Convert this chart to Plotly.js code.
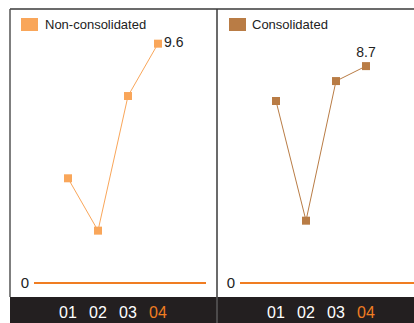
<!DOCTYPE html>
<html>
<head>
<meta charset="utf-8">
<script src="https://cdn.plot.ly/plotly-3.0.1.min.js"></script>
<style>html,body{margin:0;padding:0;background:#fff;}#chart{width:414px;height:323px;}</style>
</head>
<body>
<div id="chart"></div>
<script>
var categories = ['01', '02', '03', '04'];
var tickLabels = ['01', '02', '03', '04'];
var highlightLabel = '04';
var nonConsolidated = [4.2, 2.1, 7.5, 9.6];
var consolidated = [7.3, 2.5, 8.1, 8.7];
var seriesNames = ['Non-consolidated', 'Consolidated'];

var colNon = '#f9a65a';
var colCon = '#b97c45';
var accent = '#f07d22';
var W = 414, H = 323, B = 26;
var plotH = H - B;
function px(x){ return x / W; }
function py(y){ return (plotH - y) / plotH; }

function lastLabel(arr){ return arr.map(function(v,i){ return i === arr.length-1 ? v.toFixed(1) : ''; }); }
var tickText = tickLabels.map(function(t){ return t === highlightLabel ? '<span style="color:' + accent + '">' + t + '</span>' : t; });

var traces = [
  {x: categories, y: nonConsolidated, xaxis: 'x', yaxis: 'y', type: 'scatter', mode: 'lines+markers+text',
   line: {color: colNon, width: 1}, marker: {color: colNon, size: 8, symbol: 'square'},
   text: lastLabel(nonConsolidated), textposition: 'middle right', textfont: {size: 14, color: '#222'},
   cliponaxis: false, hoverinfo: 'none', showlegend: false},
  {x: categories, y: consolidated, xaxis: 'x2', yaxis: 'y2', type: 'scatter', mode: 'lines+markers+text',
   line: {color: colCon, width: 1}, marker: {color: colCon, size: 8, symbol: 'square'},
   text: lastLabel(consolidated), textposition: 'top center', textfont: {size: 14, color: '#222'},
   cliponaxis: false, hoverinfo: 'none', showlegend: false}
];

var yr = [-14/24.93, 283/24.93];
function yax(anchor){
  return {anchor: anchor, domain: [0,1], range: yr, showgrid: false, zeroline: true,
    zerolinecolor: accent, zerolinewidth: 2, tickvals: [0], ticktext: ['0'], ticks: '',
    showline: false, tickfont: {size: 15, color: '#222'}, ticklabelstandoff: 4, fixedrange: true};
}
function xax(anchor, dom, rng){
  return {anchor: anchor, domain: dom, range: rng, type: 'category', tickvals: categories, ticktext: tickText,
    showgrid: false, zeroline: false, showline: false, ticks: '', tickfont: {size: 16, color: '#ffffff'},
    ticklabelstandoff: 4, fixedrange: true};
}

var lineCol = '#3a3a3a';
var shapes = [
  {type: 'rect', xref: 'paper', yref: 'paper', x0: px(10), x1: 1.0, y0: py(297), y1: py(323), fillcolor: '#231f20', line: {width: 0}, layer: 'below'},
  {type: 'line', xref: 'paper', yref: 'paper', x0: px(10), x1: 1.0, y0: py(9), y1: py(9), line: {color: lineCol, width: 1.5}},
  {type: 'line', xref: 'paper', yref: 'paper', x0: px(10), x1: px(10), y0: py(9), y1: py(297), line: {color: '#555', width: 1.5}},
  {type: 'line', xref: 'paper', yref: 'paper', x0: px(217), x1: px(217), y0: py(9), y1: py(297), line: {color: lineCol, width: 1.5}},
  {type: 'line', xref: 'paper', yref: 'paper', x0: px(217), x1: px(217), y0: py(297), y1: py(323), line: {color: '#777', width: 1}},
  {type: 'rect', xref: 'paper', yref: 'paper', x0: px(21), x1: px(38), y0: py(18), y1: py(31), fillcolor: colNon, line: {width: 0}},
  {type: 'rect', xref: 'paper', yref: 'paper', x0: px(229), x1: px(246), y0: py(18), y1: py(31), fillcolor: colCon, line: {width: 0}}
];
var annotations = [
  {xref: 'paper', yref: 'paper', x: px(43), y: py(24.5), xanchor: 'left', yanchor: 'middle', text: seriesNames[0], showarrow: false, font: {size: 13, color: '#222'}},
  {xref: 'paper', yref: 'paper', x: px(250), y: py(24.5), xanchor: 'left', yanchor: 'middle', text: seriesNames[1], showarrow: false, font: {size: 13, color: '#222'}}
];

var layout = {
  width: W, height: H, margin: {l: 0, r: 0, t: 0, b: B, pad: 0},
  paper_bgcolor: '#fff', plot_bgcolor: 'rgba(0,0,0,0)',
  font: {family: 'Liberation Sans, Arial, sans-serif', color: '#222'},
  showlegend: false,
  xaxis: xax('y', [px(34), px(206)], [-34/30, 138/30]),
  yaxis: yax('x'),
  xaxis2: xax('y2', [px(240), 1], [-36/30, 138/30]),
  yaxis2: yax('x2'),
  shapes: shapes, annotations: annotations
};
Plotly.newPlot('chart', traces, layout, {displayModeBar: false, staticPlot: true});
</script>
</body>
</html>
